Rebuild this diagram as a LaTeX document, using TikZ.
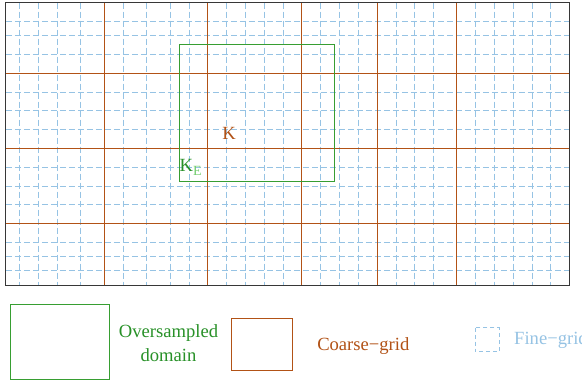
\documentclass[tikz,border=0pt]{standalone}
\usepackage{fontspec}
\setmainfont{Liberation Serif}
\definecolor{finec}{RGB}{150,195,228}
\definecolor{coarsec}{RGB}{178,82,22}
\definecolor{overc}{RGB}{55,158,50}
\definecolor{kdark}{RGB}{40,145,40}
\definecolor{klight}{RGB}{115,205,110}
\definecolor{borderc}{RGB}{55,55,55}
\tikzset{
  fineline/.style={draw=finec, line width=0.9pt, dash pattern=on 6pt off 3pt},
  coarseline/.style={draw=coarsec, line width=1pt},
  overbox/.style={draw=overc, line width=1pt},
  bordline/.style={draw=borderc, line width=1.2pt},
  lbl/.style={font=\fontsize{18.6}{23.5}\selectfont, inner sep=0pt},
}
\begin{document}
\begin{tikzpicture}[x=1pt,y=-1pt]
\useasboundingbox (0,0) rectangle (582,381);
\clip (0,0) rectangle (582,381);
\fill[white] (0,0) rectangle (582,381);
% fine grid
\foreach \x in {19.3,38.7,57.3,80.7,123.3,146.7,170,189.3,226.7,245.7,264.3,283.3,320.7,339.3,358.3,396,414.7,433.3,475.7,494.3,513.3,532,550.7}
  \draw[fineline] (\x,2.7) -- (\x,285.3);
\foreach \y in {21.3,35.3,54,92,110.7,129.3,167,186,204.7,242.3,256.7,270.7}
  \draw[fineline] (5.8,\y) -- (569.3,\y);
% coarse grid
\foreach \x in {104.3,207.7,301.7,377,456.3}
  \draw[coarseline] (\x,2.7) -- (\x,285.3);
\foreach \y in {73.3,148.3,223.7}
  \draw[coarseline] (5.8,\y) -- (569.3,\y);
% oversampled domain
\draw[overbox] (179.7,44.7) rectangle (334.3,181);
% border
\draw[bordline] (5.8,2.7) rectangle (569.3,285.3);
% labels
\node[lbl, text=coarsec] (k) at (229,133.3) {K};
\node[lbl, anchor=west] (ke) at (179.5,167) {{\color{kdark}K}{\fontsize{14}{14}\selectfont\color{klight}\raisebox{-4pt}{E}}};
% legend
\draw[overbox] (10.3,304) rectangle (109.3,379);
\node[lbl, text=kdark, align=center] (legover) at (168.5,343.3) {Oversampled\\domain};
\draw[coarseline] (231.3,318.3) rectangle (292.3,370);
\node[lbl, text=coarsec] (legcoarse) at (363.3,345.7) {Coarse−grid};
\draw[fineline, dash pattern=on 4pt off 3pt] (475.3,327.7) rectangle (499.3,351.7);
\node[lbl, text=finec, anchor=west] (legfine) at (514,340) {Fine−grid};
\end{tikzpicture}
\end{document}
